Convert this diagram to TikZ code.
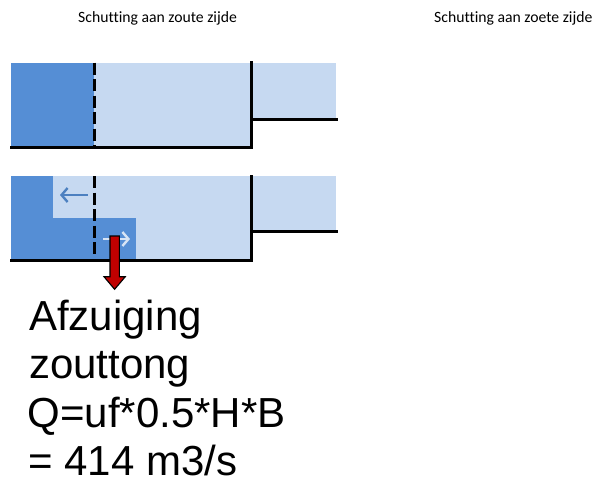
\documentclass[tikz,border=0pt]{standalone}
\usepackage{fontspec}
\setmainfont{Liberation Sans}
\newfontfamily\headfont[Ligatures={NoCommon}]{Carlito}
\usetikzlibrary{arrows.meta}
\definecolor{saltblue}{HTML}{558ED5}
\definecolor{freshblue}{HTML}{C6D9F1}
\definecolor{pumpred}{HTML}{C00000}
\tikzset{
  wall/.style={draw=black, line width=3pt, line cap=rect},
  gate/.style={draw=black, line width=2.6pt, dash pattern=on 12pt off 4.5pt},
  flowarrow/.style={line width=2.4pt, -{Straight Barb[length=6pt,width=14pt,line width=2.4pt]}},
  header/.style={anchor=base west, inner sep=0pt, font=\headfont\fontsize{15.7}{18}\selectfont},
  bigtext/.style={anchor=base west, inner sep=0pt, font=\fontsize{42}{48}\selectfont},
}
\begin{document}
\begin{tikzpicture}[x=1pt, y=-1pt]
  \useasboundingbox (0,0) rectangle (592,479);

  % headings
  \node[header] (hzout) at (78,22) {Schutting aan zoute zijde};
  \node[header] (hzoet) at (434,22) {Schutting aan zoete zijde};

  % --- upper chamber: salt water fills the head up to the gate
  \fill[freshblue] (11,62.7) rectangle (251.5,147.3);
  \fill[freshblue] (251.5,62.7) rectangle (336,119);
  \fill[saltblue] (11,62.7) rectangle (93.8,147.3);
  \draw[gate] (94.5,62.7) -- (94.5,147.3);
  \draw[wall] (11,147.3) -- (251.5,147.3) -- (251.5,62.7);
  \draw[wall] (251.5,119) -- (336,119);

  % --- lower chamber: salt tongue moving in along the bottom
  \fill[freshblue] (11,176) rectangle (251.5,260);
  \fill[freshblue] (251.5,176) rectangle (336,231);
  \fill[saltblue] (11,176) rectangle (52.7,260);
  \fill[saltblue] (52.7,217.7) rectangle (136,260);
  \draw[gate] (94.5,176) -- (94.5,257);
  \draw[wall] (11,260) -- (251.5,260) -- (251.5,176);
  \draw[wall] (251.5,231) -- (336,231);

  % exchange flow directions
  \coordinate (lstart) at (88,195);
  \coordinate (lend) at (60,195);
  \draw[flowarrow, saltblue!90!black] (lstart) -- (lend);
  \coordinate (rstart) at (103,239);
  \coordinate (rend) at (130,239);
  \draw[flowarrow, freshblue!70!white] (rstart) -- (rend);

  % extraction of the salt tongue
  \draw[fill=pumpred, draw=black, line width=1.1pt, line join=miter]
    (110,236) -- (119.3,236) -- (119.3,276.7) -- (125.3,276.7)
    -- (114.6,289.3) -- (104,276.7) -- (110,276.7) -- cycle;

  % discharge text
  \node[bigtext] (t1) at (29,330) {Afzuiging};
  \node[bigtext] (t2) at (29,378) {zouttong};
  \node[bigtext] (t3) at (27.5,427) {Q=uf*0.5*H*B};
  \node[bigtext] (t4) at (28,475) {= 414 m3/s};
\end{tikzpicture}
\end{document}
